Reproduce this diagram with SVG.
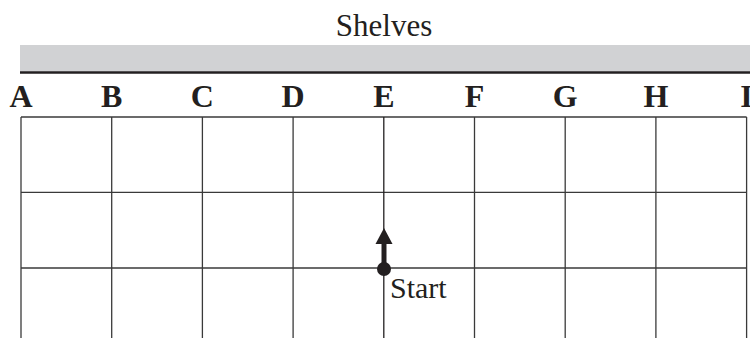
<svg xmlns="http://www.w3.org/2000/svg" width="750" height="338" viewBox="0 0 750 338">
<style>
.t{font-family:"Liberation Serif","Times New Roman",serif;fill:#231f20}
.col{font-family:"Liberation Serif","Times New Roman",serif;font-weight:bold;font-size:32px;fill:#231f20;text-anchor:middle}
.g{stroke:#3a3a3a;stroke-width:1.3;fill:none}
</style>
<rect width="750" height="338" fill="#fff"/>
<g id="shelves">
<text class="t" x="384" y="36" font-size="31" text-anchor="middle">Shelves</text>
<rect x="20" y="45" width="730" height="26.5" fill="#d1d2d4"/>
<line x1="20" y1="72.5" x2="750" y2="72.5" stroke="#231f20" stroke-width="2.6"/>
</g>
<g id="labels">
<text class="col" x="21" y="107">A</text>
<text class="col" x="111.7" y="107">B</text>
<text class="col" x="202.4" y="107">C</text>
<text class="col" x="293.1" y="107">D</text>
<text class="col" x="383.8" y="107">E</text>
<text class="col" x="474.5" y="107">F</text>
<text class="col" x="565.2" y="107">G</text>
<text class="col" x="655.9" y="107">H</text>
<text class="col" x="746.6" y="107">I</text>
</g>
<g id="grid" class="g">
<line x1="21" y1="117" x2="746.6" y2="117"/>
<line x1="21" y1="192.3" x2="746.6" y2="192.3"/>
<line x1="21" y1="268" x2="746.6" y2="268"/>
<line x1="21" y1="117" x2="21" y2="338"/>
<line x1="111.7" y1="117" x2="111.7" y2="338"/>
<line x1="202.4" y1="117" x2="202.4" y2="338"/>
<line x1="293.1" y1="117" x2="293.1" y2="338"/>
<line x1="383.8" y1="117" x2="383.8" y2="338" stroke="#231f20"/>
<line x1="474.5" y1="117" x2="474.5" y2="338"/>
<line x1="565.2" y1="117" x2="565.2" y2="338"/>
<line x1="655.9" y1="117" x2="655.9" y2="338"/>
<line x1="746.6" y1="117" x2="746.6" y2="338"/>
</g>
<g id="start">
<line x1="384" y1="269" x2="384" y2="242" stroke="#231f20" stroke-width="5"/>
<polygon points="384,228 392.5,244 375.5,244" fill="#231f20"/>
<circle cx="384" cy="269" r="7" fill="#231f20"/>
<text class="t" x="390" y="298" font-size="30">Start</text>
</g>
</svg>
